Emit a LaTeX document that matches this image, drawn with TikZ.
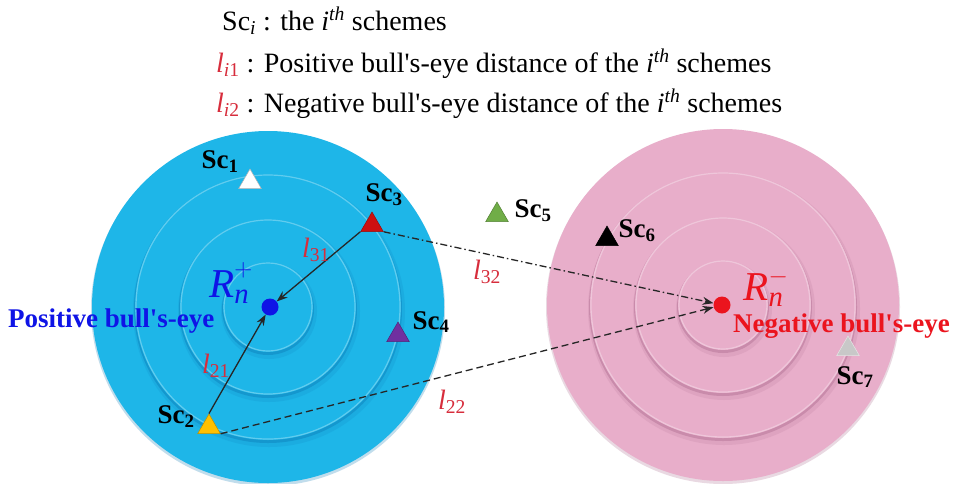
\documentclass[tikz,border=0pt]{standalone}
\usepackage{amsmath}
\usepackage{fontspec}
\setmainfont{Liberation Serif}
\usetikzlibrary{shapes.geometric,arrows.meta}
\definecolor{bluefill}{RGB}{30,182,232}
\definecolor{blueedge}{RGB}{10,120,180}
\definecolor{pinkfill}{RGB}{232,174,202}
\definecolor{pinkedge}{RGB}{170,105,140}
\definecolor{lblred}{RGB}{215,45,60}
\definecolor{posblue}{RGB}{15,20,230}
\definecolor{negred}{RGB}{235,20,30}
\definecolor{triyellow}{RGB}{255,192,0}
\definecolor{trired}{RGB}{205,16,16}
\definecolor{tripurple}{RGB}{112,48,160}
\definecolor{trigreen}{RGB}{112,173,71}
\definecolor{trigray}{RGB}{200,200,200}
\newcommand{\apo}{\textquotesingle}
\begin{document}
\begin{tikzpicture}[x=1pt,y=-1pt,
  tri/.style={regular polygon, regular polygon sides=3, minimum size=26pt, inner sep=0pt, fill=#1, draw=#1!75!black, line width=0.5pt},
  sclab/.style={font=\fontsize{27}{27}\selectfont\bfseries, inner sep=0pt},
  dlab/.style={text=lblred, font=\fontsize{28}{28}\selectfont, inner sep=0pt},
  conn/.style={-{Stealth[length=11pt,width=8pt]}, line width=1.3pt, draw=black!85},
  legend/.style={font=\fontsize{28}{28}\selectfont, anchor=base west, inner sep=0pt},
  dot/.style={circle, fill=#1, minimum size=17pt, inner sep=0pt},
  eye/.style={font=\fontsize{27}{27}\selectfont\bfseries, anchor=west, inner sep=0pt, text=#1},
  rlab/.style={font=\fontsize{41}{41}\selectfont, inner sep=0pt, text=#1}]
\useasboundingbox (0,0) rectangle (963,483);
\fill[white] (0,0) rectangle (963,483);
% discs
\foreach \cx/\cy/\fc/\ec in {268/307/bluefill/blueedge, 723/305/pinkfill/pinkedge}{
  \fill[\ec, opacity=0.25] (\cx,\cy+2) circle (177);
  \fill[\fc] (\cx,\cy) circle (176);
  \foreach \r in {133,88,45}{
    \fill[\ec, opacity=0.15] (\cx+1,\cy+4) circle (\r+3);
    \fill[\ec, opacity=0.4] (\cx,\cy+2) circle (\r+1);
    \fill[\fc] (\cx,\cy) circle (\r);
    \draw[white, opacity=0.3, line width=1.2pt] (\cx,\cy) circle (\r-1);
  }
}
% bull's-eyes
\node[dot=posblue] (pos) at (270,307) {};
\node[dot=negred] (neg) at (722,305) {};
% schemes
\node[tri=white, draw=gray!60] (t1) at (250,182) {};
\node[tri=triyellow] (t2) at (209,427) {};
\node[tri=trired] (t3) at (372,225) {};
\node[tri=tripurple] (t4) at (398,335) {};
\node[tri=trigreen] (t5) at (497,215) {};
\node[tri=black] (t6) at (607,239) {};
\node[tri=trigray, draw=white!80!gray] (t7) at (848,349) {};
\node[sclab] (s1) at (220,162) {Sc\textsubscript{1}};
\node[sclab] (s2) at (176,417) {Sc\textsubscript{2}};
\node[sclab] (s3) at (384,195) {Sc\textsubscript{3}};
\node[sclab] (s4) at (431,322) {Sc\textsubscript{4}};
\node[sclab] (s5) at (533,211) {Sc\textsubscript{5}};
\node[sclab] (s6) at (637,231) {Sc\textsubscript{6}};
\node[sclab] (s7) at (855,377) {Sc\textsubscript{7}};
% connectors
\draw[conn] (t3.corner 2) -- (pos);
\draw[conn] (t2.corner 1) -- (pos);
\draw[conn, dash pattern=on 7pt off 3pt on 1.5pt off 3pt] (t3.corner 3) -- (neg);
\draw[conn, dash pattern=on 7pt off 4pt] (t2.corner 3) -- (neg);
% distance labels
\node[dlab] (l31) at (316,250) {\textit{l}\textsubscript{31}};
\node[dlab] (l21) at (216,366) {\textit{l}\textsubscript{21}};
\node[dlab] (l32) at (487,272) {\textit{l}\textsubscript{32}};
\node[dlab] (l22) at (452,402) {\textit{l}\textsubscript{22}};
% R labels
\node[rlab=posblue] (rp) at (231,283) {$\textit{R}_{\textit{n}}^{\raisebox{3pt}{$\scriptstyle+$}}$};
\node[rlab=negred] (rn) at (766,288) {$\textit{R}_{\textit{n}}^{-}$};
\node[eye=posblue] (pe) at (8,321) {Positive bull\apo s-eye};
\node[eye=negred] (ne) at (733,326) {Negative bull\apo s-eye};
% legend
\node[legend] (leg1) at (222,30) {Sc\textsubscript{\textit{i}} : the \textit{i}\textsuperscript{\textit{th}} schemes};
\node[legend] (leg2) at (216,72) {\textcolor{lblred}{\textit{l}\textsubscript{\textit{i}1}} : Positive bull\apo s-eye distance of the \textit{i}\textsuperscript{\textit{th}} schemes};
\node[legend] (leg3) at (216,112) {\textcolor{lblred}{\textit{l}\textsubscript{\textit{i}2}} : Negative bull\apo s-eye distance of the \textit{i}\textsuperscript{\textit{th}} schemes};
\end{tikzpicture}
\end{document}
